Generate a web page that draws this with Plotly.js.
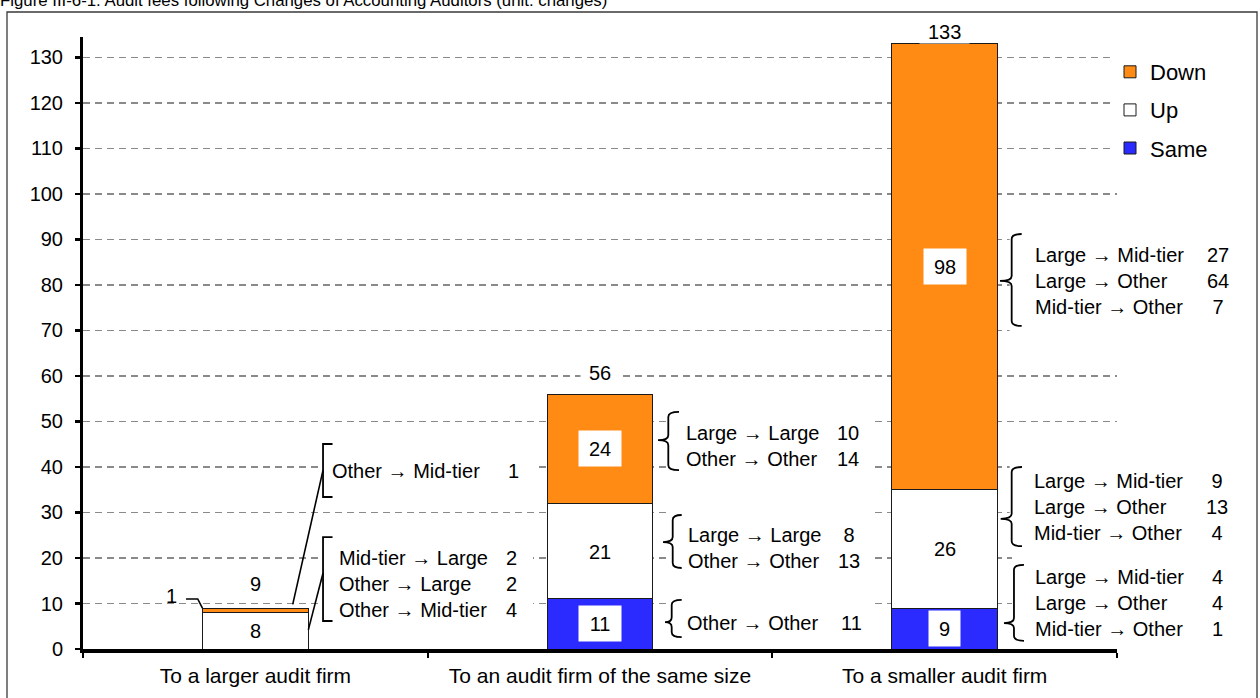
<!DOCTYPE html>
<html>
<head>
<meta charset="utf-8">
<script src="https://cdn.plot.ly/plotly-3.0.1.min.js"></script>
<style>
  html, body { margin: 0; padding: 0; background: #fff; }
  #chart { width: 1260px; height: 698px; }
</style>
</head>
<body>
<div id="chart"></div>
<script>
// ---- data ----
const categories = ['To a larger audit firm', 'To an audit firm of the same size', 'To a smaller audit firm'];
const seriesNames = ['Same', 'Up', 'Down'];
const sameValues = [0, 11, 9];
const upValues = [8, 21, 26];
const downValues = [1, 24, 98];

// breakdown of each segment by size of the outgoing / incoming firm
const largerDownRoutes = ['Other → Mid-tier'];
const largerDownCounts = [1];
const largerUpRoutes = ['Mid-tier → Large', 'Other → Large', 'Other → Mid-tier'];
const largerUpCounts = [2, 2, 4];
const sameSizeDownRoutes = ['Large → Large', 'Other → Other'];
const sameSizeDownCounts = [10, 14];
const sameSizeUpRoutes = ['Large → Large', 'Other → Other'];
const sameSizeUpCounts = [8, 13];
const sameSizeSameRoutes = ['Other → Other'];
const sameSizeSameCounts = [11];
const smallerDownRoutes = ['Large → Mid-tier', 'Large → Other', 'Mid-tier → Other'];
const smallerDownCounts = [27, 64, 7];
const smallerUpRoutes = ['Large → Mid-tier', 'Large → Other', 'Mid-tier → Other'];
const smallerUpCounts = [9, 13, 4];
const smallerSameRoutes = ['Large → Mid-tier', 'Large → Other', 'Mid-tier → Other'];
const smallerSameCounts = [4, 4, 1];

// ---- styling / geometry ----
const W = 1260, H = 698;
const margin = { l: 83, r: 143, t: 37, b: 49 };
const plotW = W - margin.l - margin.r;
const plotH = H - margin.t - margin.b;
const yMax = 134.5;
const barWidth = 0.307;
const catW = plotW / categories.length;
const FONT = 'Arial, "Liberation Sans", Helvetica, sans-serif';
const colors = { Same: '#2B2BFF', Up: '#FFFFFF', Down: '#FF8A14' };
const legendRank = { Down: 1, Up: 2, Same: 3 };
const outline = '#1a1a1a';

const pxToX = dx => dx / catW;            // pixel offset -> category units
const pxToY = dy => dy * yMax / plotH;    // pixel offset -> value units
const paperX = px => (px - margin.l) / plotW;
const paperY = py => (H - margin.b - py) / plotH;
// pixel offset from a category centre -> paper x (usable beyond the axis range)
const catPaperX = (i, dx) => ((i + 0.5) * catW + dx) / plotW;

const valuesBySeries = { Same: sameValues, Up: upValues, Down: downValues };
const totals = categories.map((_, i) => sameValues[i] + upValues[i] + downValues[i]);

// ---- bars ----
const traces = seriesNames.map(name => ({
  type: 'bar',
  name: name,
  x: categories,
  y: valuesBySeries[name],
  width: barWidth,
  legendgroup: name,
  legendrank: legendRank[name],
  marker: { color: colors[name], line: { color: outline, width: 1 } },
  hoverinfo: 'skip'
}));

const shapes = [];
const annotations = [];

// outer frame of the figure
shapes.push({
  type: 'rect', xref: 'paper', yref: 'paper', layer: 'above',
  x0: paperX(7), x1: paperX(1257), y0: paperY(720), y1: paperY(12),
  line: { color: '#3a3a3a', width: 1.3 }, fillcolor: 'rgba(0,0,0,0)'
});

// segment value labels
categories.forEach((cat, i) => {
  let base = 0;
  seriesNames.forEach(name => {
    const v = valuesBySeries[name][i];
    const mid = base + v / 2;
    base += v;
    if (v <= 0) return;
    if (v * plotH / yMax < 20) return; // too thin: labelled outside below
    const filled = colors[name] !== '#FFFFFF';
    annotations.push({
      xref: 'x', yref: 'y', x: i, y: mid, text: String(v), showarrow: false,
      font: { size: 20, color: '#000' },
      bgcolor: filled ? '#FFFFFF' : 'rgba(0,0,0,0)',
      width: String(v).length * 11.1 + 18, height: 33,
      xanchor: 'center', yanchor: 'middle'
    });
  });
});

// thin "Down" segment on the first bar: label with an elbow leader
{
  const i = 0, v = downValues[0];
  const barTop = totals[i];
  annotations.push({
    xref: 'x', yref: 'y', x: i + pxToX(-83.6), y: 11.7, text: String(v), showarrow: false,
    font: { size: 20 }, xanchor: 'center', yanchor: 'middle'
  });
  const half = barWidth / 2;
  shapes.push({
    type: 'path', xref: 'x', yref: 'y', layer: 'above',
    path: `M${i + pxToX(-69.3)},11 L${i + pxToX(-57.6)},11 L${i - half},${barTop}`,
    line: { color: '#000', width: 1.6 }
  });
}

// totals above the bars
const totalLabelRaise = [24, 21.5, 12];
totals.forEach((t, i) => {
  annotations.push({
    xref: 'x', yref: 'y', x: i, y: t, yshift: totalLabelRaise[i], text: String(t), showarrow: false,
    font: { size: 20 }, bgcolor: '#FFFFFF', width: String(t).length * 11.1 + 14, height: 20,
    xanchor: 'center', yanchor: 'middle'
  });
});

// ---- breakdown callouts ----
const callouts = [
  { cat: 0, routes: largerDownRoutes, counts: largerDownCounts, kind: 'square',
    spine: 67.7, tip: 9.5, top: 45.05, bottom: 33.4, textX: 74.7, textY: 39.1, numX: 257.7,
    leader: { fromY: 39.3, toX: 37.4, toY: 9.8 } },
  { cat: 0, routes: largerUpRoutes, counts: largerUpCounts, kind: 'square',
    spine: 67.7, tip: 9.5, top: 24.6, bottom: 6.15, textX: 81.7, textY: 14.2, numX: 255.7,
    leader: { fromY: 16.7, toX: 53, toY: 4.2 } },
  { cat: 1, routes: sameSizeDownRoutes, counts: sameSizeDownCounts, kind: 'curly',
    spine: 68.3, tip: 10.7, nib: 10.3, top: 52.1, bottom: 39.3, mid: 45.9, textX: 84, textY: 44.7, numX: 248 },
  { cat: 1, routes: sameSizeUpRoutes, counts: sameSizeUpCounts, kind: 'curly',
    spine: 72.7, tip: 9, nib: 9.7, top: 29.45, bottom: 17.8, mid: 23.5, textX: 86, textY: 22.3, numX: 249 },
  { cat: 1, routes: sameSizeSameRoutes, counts: sameSizeSameCounts, kind: 'curly',
    spine: 71.7, tip: 10, nib: 6.7, top: 10.8, bottom: 2.6, mid: 5.9, textX: 85, textY: 5.7, numX: 251.7 },
  { cat: 2, routes: smallerDownRoutes, counts: smallerDownCounts, kind: 'curly',
    spine: 67, tip: 10, nib: 11.7, top: 91.2, bottom: 71.0, mid: 80.9, textX: 88.3, textY: 80.9, numX: 273.3 },
  { cat: 2, routes: smallerUpRoutes, counts: smallerUpCounts, kind: 'curly',
    spine: 67, tip: 10.3, nib: 11, top: 40.0, bottom: 22.6, mid: 28.6, textX: 87.3, textY: 31.3, numX: 272.3 },
  { cat: 2, routes: smallerSameRoutes, counts: smallerSameCounts, kind: 'curly',
    spine: 69.3, tip: 10, nib: 10, top: 18.5, bottom: 1.8, mid: 5.7, textX: 88.3, textY: 10.2, numX: 273.3 }
];

function curlyBrace(xs, xt, xn, top, bottom, mid) {
  const r = pxToY(5);
  return `M${xt},${top} Q${xs},${top} ${xs},${top - r} L${xs},${mid + r} ` +
         `Q${xs},${mid} ${xn},${mid} Q${xs},${mid} ${xs},${mid - r} ` +
         `L${xs},${bottom + r} Q${xs},${bottom} ${xt},${bottom}`;
}

callouts.forEach(c => {
  const xs = c.cat + pxToX(c.spine);
  const xt = xs + pxToX(c.tip);
  const pad = pxToY(8);

  // white backing behind the bracket and its text (hides the gridlines there)
  shapes.push({
    type: 'rect', xref: 'x', yref: 'y', layer: 'between',
    x0: xs - pxToX(2), x1: c.cat + pxToX(c.numX + 22),
    y0: c.bottom - pad, y1: c.top + pad,
    fillcolor: '#FFFFFF', line: { width: 0 }
  });

  const path = c.kind === 'curly'
    ? curlyBrace(xs, xt, xs - pxToX(c.nib), c.top, c.bottom, c.mid)
    : `M${xt},${c.top} L${xs},${c.top} L${xs},${c.bottom} L${xt},${c.bottom}`;
  shapes.push({ type: 'path', xref: 'x', yref: 'y', layer: 'above', path: path,
    line: { color: '#000', width: 1.8 } });

  if (c.leader) {
    shapes.push({ type: 'line', xref: 'x', yref: 'y', layer: 'above',
      x0: xs, y0: c.leader.fromY, x1: c.cat + pxToX(c.leader.toX), y1: c.leader.toY,
      line: { color: '#000', width: 1.6 } });
  }

  annotations.push({
    xref: 'paper', yref: 'y', x: catPaperX(c.cat, c.textX), y: c.textY,
    text: c.routes.join('<br>'), align: 'left', showarrow: false,
    xanchor: 'left', yanchor: 'middle', font: { size: 20 }
  });
  annotations.push({
    xref: 'paper', yref: 'y', x: catPaperX(c.cat, c.numX), y: c.textY,
    text: c.counts.map(String).join('<br>'), align: 'center', showarrow: false,
    xanchor: 'center', yanchor: 'middle', font: { size: 20 }
  });
});

const layout = {
  width: W, height: H, autosize: false,
  margin: Object.assign({ pad: 0 }, margin),
  paper_bgcolor: '#FFFFFF', plot_bgcolor: '#FFFFFF',
  barmode: 'stack',
  font: { family: FONT, size: 20, color: '#000' },
  title: {
    text: 'Figure III-6-1. Audit fees following Changes of Accounting Auditors (unit: changes)',
    x: 0, xref: 'container', xanchor: 'left',
    y: 1, yref: 'container', yanchor: 'middle',
    font: { family: FONT, size: 16.8, color: '#000' }
  },
  showlegend: true,
  legend: {
    x: paperX(1110), y: paperY(51), xanchor: 'left', yanchor: 'top',
    bgcolor: '#FFFFFF', borderwidth: 0,
    font: { family: FONT, size: 22, color: '#000' },
    traceorder: 'grouped', tracegroupgap: 6.5,
    itemclick: false, itemdoubleclick: false
  },
  xaxis: {
    type: 'category', range: [-0.5, categories.length - 0.5],
    tickson: 'boundaries', ticks: 'outside', ticklen: 5, tickwidth: 2, tickcolor: '#000',
    showline: true, linecolor: '#000', linewidth: 3.5,
    showgrid: false, zeroline: false,
    tickfont: { family: FONT, size: 21, color: '#000' },
    ticklabelstandoff: 5, fixedrange: true
  },
  yaxis: {
    range: [0, yMax], tick0: 0, dtick: 10,
    ticks: 'outside', ticklen: 5, tickwidth: 2.5, tickcolor: '#000',
    showline: true, linecolor: '#000', linewidth: 3,
    showgrid: true, gridcolor: '#8a8a8a', gridwidth: 1.4, griddash: '7px,5px',
    zeroline: false,
    tickfont: { family: FONT, size: 20, color: '#000' },
    ticklabelstandoff: 8, fixedrange: true
  },
  shapes: shapes,
  annotations: annotations
};

Plotly.newPlot('chart', traces, layout, { displayModeBar: false, staticPlot: true });
</script>
</body>
</html>
